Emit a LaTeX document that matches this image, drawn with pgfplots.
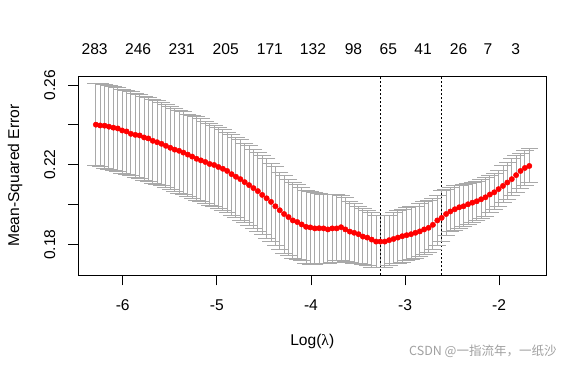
\documentclass[border=0pt]{standalone}
\usepackage{fontspec}
\setmainfont{Liberation Sans}
\newfontfamily\serifg{Liberation Serif}
\newfontfamily\cjk{Noto Sans CJK SC}
\usepackage{pgfplots}
\pgfplotsset{compat=1.18}
\usepackage{pgfplotstable}
\definecolor{barcol}{RGB}{169,169,169}
\definecolor{wm}{RGB}{160,160,160}
\newcommand\rf{\fontsize{15.6bp}{18bp}\selectfont}

\pgfplotstableread{
x m u l
-6.285 0.2401 0.2608 0.2195
-6.239 0.2397 0.2606 0.2190
-6.192 0.2396 0.2601 0.2182
-6.146 0.2391 0.2596 0.2177
-6.099 0.2386 0.2591 0.2170
-6.052 0.2382 0.2586 0.2165
-6.006 0.2372 0.2579 0.2157
-5.959 0.2367 0.2573 0.2152
-5.913 0.2355 0.2566 0.2145
-5.866 0.2350 0.2557 0.2137
-5.820 0.2347 0.2551 0.2130
-5.773 0.2337 0.2542 0.2123
-5.727 0.2332 0.2536 0.2115
-5.680 0.2320 0.2525 0.2108
-5.634 0.2313 0.2520 0.2103
-5.587 0.2305 0.2512 0.2094
-5.541 0.2295 0.2502 0.2084
-5.494 0.2285 0.2493 0.2076
-5.448 0.2276 0.2483 0.2066
-5.401 0.2270 0.2473 0.2057
-5.355 0.2261 0.2465 0.2049
-5.308 0.2251 0.2453 0.2041
-5.262 0.2241 0.2445 0.2032
-5.215 0.2230 0.2440 0.2021
-5.169 0.2222 0.2431 0.2014
-5.122 0.2214 0.2419 0.2007
-5.076 0.2204 0.2409 0.1997
-5.029 0.2199 0.2397 0.1990
-4.983 0.2189 0.2386 0.1980
-4.936 0.2180 0.2377 0.1970
-4.890 0.2169 0.2364 0.1960
-4.843 0.2153 0.2352 0.1948
-4.797 0.2140 0.2339 0.1936
-4.750 0.2128 0.2327 0.1923
-4.704 0.2113 0.2308 0.1909
-4.657 0.2098 0.2296 0.1897
-4.611 0.2083 0.2278 0.1881
-4.564 0.2068 0.2263 0.1867
-4.518 0.2049 0.2246 0.1849
-4.471 0.2032 0.2229 0.1830
-4.424 0.2014 0.2207 0.1813
-4.378 0.1992 0.2190 0.1796
-4.331 0.1972 0.2162 0.1776
-4.285 0.1953 0.2148 0.1756
-4.238 0.1938 0.2128 0.1744
-4.192 0.1921 0.2111 0.1731
-4.145 0.1913 0.2101 0.1724
-4.099 0.1901 0.2088 0.1719
-4.052 0.1889 0.2071 0.1707
-4.006 0.1886 0.2068 0.1699
-3.959 0.1881 0.2061 0.1699
-3.913 0.1882 0.2057 0.1704
-3.866 0.1881 0.2052 0.1704
-3.820 0.1876 0.2052 0.1707
-3.773 0.1881 0.2052 0.1712
-3.727 0.1881 0.2051 0.1719
-3.680 0.1887 0.2047 0.1719
-3.634 0.1876 0.2036 0.1714
-3.587 0.1865 0.2014 0.1711
-3.541 0.1859 0.2005 0.1707
-3.494 0.1852 0.1990 0.1707
-3.448 0.1840 0.1980 0.1702
-3.401 0.1835 0.1970 0.1694
-3.355 0.1825 0.1960 0.1685
-3.308 0.1815 0.1946 0.1685
-3.262 0.1815 0.1945 0.1685
-3.215 0.1815 0.1945 0.1687
-3.169 0.1822 0.1946 0.1695
-3.122 0.1828 0.1960 0.1704
-3.076 0.1835 0.1970 0.1707
-3.029 0.1842 0.1977 0.1712
-2.983 0.1847 0.1985 0.1719
-2.936 0.1852 0.1990 0.1724
-2.890 0.1859 0.1993 0.1729
-2.843 0.1866 0.2005 0.1739
-2.797 0.1876 0.2014 0.1749
-2.750 0.1884 0.2019 0.1758
-2.704 0.1899 0.2030 0.1773
-2.657 0.1921 0.2047 0.1795
-2.611 0.1934 0.2073 0.1813
-2.564 0.1953 0.2078 0.1845
-2.518 0.1966 0.2086 0.1864
-2.471 0.1977 0.2094 0.1872
-2.424 0.1987 0.2098 0.1882
-2.378 0.1992 0.2103 0.1892
-2.331 0.2002 0.2108 0.1903
-2.285 0.2010 0.2111 0.1909
-2.238 0.2017 0.2116 0.1921
-2.192 0.2027 0.2125 0.1933
-2.145 0.2037 0.2137 0.1943
-2.099 0.2051 0.2148 0.1960
-2.052 0.2062 0.2158 0.1977
-2.006 0.2078 0.2170 0.1990
-1.959 0.2094 0.2195 0.2010
-1.913 0.2111 0.2213 0.2027
-1.866 0.2128 0.2229 0.2047
-1.820 0.2148 0.2244 0.2061
-1.773 0.2169 0.2258 0.2081
-1.727 0.2184 0.2271 0.2094
-1.680 0.2194 0.2283 0.2113
}\cvdata

\begin{document}
\begin{tikzpicture}
\begin{axis}[name=main, scale only axis, width=468.5bp, height=199.3bp,
  xmin=-6.475, xmax=-1.497, ymin=0.1646, ymax=0.2645,
  clip=false,
  axis line style={black, line width=0.8bp},
  tick align=outside, major tick length=10bp,
  tick style={black, line width=0.8bp},
  xtick pos=bottom, ytick pos=left,
  xtick={-6,-5,-4,-3,-2}, xticklabels={-6,-5,-4,-3,-2},
  ytick={0.18,0.20,0.22,0.24,0.26}, yticklabels={0.18,,0.22,,0.26},
  tick label style={font=\rf},
  xticklabel style={anchor=base, inner sep=0pt},
  yticklabel style={rotate=90, anchor=base, inner sep=0pt},
  xticklabel shift=25.5bp, yticklabel shift=13bp,
  xlabel={Log({\serifg λ})}, ylabel={Mean-Squared Error},
  xlabel style={font=\rf, anchor=base, inner sep=0pt, at={(axis description cs:0.5,-0.35474)}},
  ylabel style={font=\rf, anchor=base, inner sep=0pt, at={(axis description cs:-0.12593,0.5)}},
]
\addplot[barcol, only marks, mark=none, forget plot,
  error bars/.cd, y dir=both, y explicit, error mark=none,
  error bar style={line width=1bp, barcol}]
  table[x=x, y=m, y error plus expr=\thisrow{u}-\thisrow{m}, y error minus expr=\thisrow{m}-\thisrow{l}] {\cvdata};
\addplot[only marks, mark=-, mark size=8.66bp, barcol, mark options={line width=1bp}] table[x=x, y=u] {\cvdata};
\addplot[only marks, mark=-, mark size=8.66bp, barcol, mark options={line width=1bp}] table[x=x, y=l] {\cvdata};
\addplot[only marks, mark=*, mark size=2.7bp, red, mark options={fill=red, draw=red}] table[x=x, y=m] {\cvdata};
\addplot[black, line width=0.8bp, dash pattern=on 2bp off 2bp] coordinates {(-3.262,0.1646) (-3.262,0.2645)};
\addplot[black, line width=0.8bp, dash pattern=on 2bp off 2bp] coordinates {(-2.611,0.1646) (-2.611,0.2645)};
\node[anchor=east, inner sep=0pt, text=wm, font=\cjk\fontsize{12.5bp}{14bp}\selectfont] at (axis description cs:1.0218,-0.3823) {CSDN @一指流年，一纸沙};
\end{axis}
\begin{axis}[scale only axis, width=468.5bp, height=199.3bp,
  xmin=-6.475, xmax=-1.497, ymin=0.1646, ymax=0.2645,
  axis x line*=top, axis y line=none, axis line style={draw=none},
  major tick length=0pt,
  xtick={-6.298,-5.836,-5.373,-4.905,-4.436,-3.978,-3.548,-3.177,-2.809,-2.432,-2.120,-1.824},
  xticklabels={283,246,231,205,171,132,98,65,41,26,7,3},
  xticklabel style={font=\rf, anchor=base, inner sep=0pt},
  xticklabel shift=21.7bp,
]
\end{axis}
\path ([xshift=-78bp,yshift=-91.7bp]main.south west) rectangle ([xshift=26.5bp,yshift=76bp]main.north east);
\end{tikzpicture}
\end{document}
